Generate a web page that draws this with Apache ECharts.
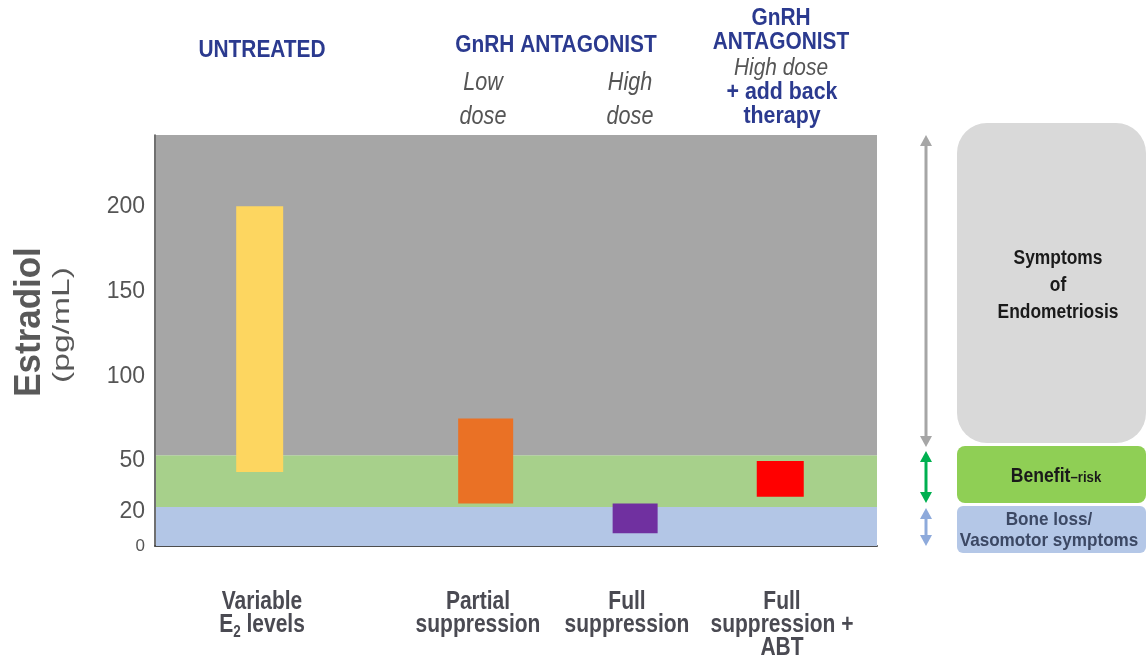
<!DOCTYPE html>
<html>
<head>
<meta charset="utf-8">
<script src="https://cdn.jsdelivr.net/npm/echarts@6/dist/echarts.min.js"></script>
<style>
  html, body { margin: 0; padding: 0; background: #fff; }
  #chart { width: 1146px; height: 657px; }
</style>
</head>
<body>
<div id="chart"></div>
<script>
// estradiol zones (pg/mL)
var bandNames = ['Bone loss', 'Benefit-risk', 'Symptoms'];
var bandLow = [0, 23, 53.5];
var bandHigh = [23, 53.5, 242];

// treatment groups, x position on a 0-100 axis
var groups = ['Variable\nE{sub|2} levels', 'Partial\nsuppression', 'Full\nsuppression', 'Full\nsuppression +\nABT'];
var groupX = [14.5, 45.8, 66.5, 86.6];
var e2Low = [43.5, 25, 7.5, 29];
var e2High = [200, 75, 25, 50];

var yTicks = [0, 20, 50, 100, 150, 200];

var chartDom = document.getElementById('chart');
var myChart = echarts.init(chartDom);
var option;

var bandColors = ['#b3c6e6', '#a7d08b', '#a6a6a6'];
var barColors = ['#fdd660', '#ea7125', '#7030a0', '#ff0000'];
var barWidths = [47, 55, 45, 47];
var labelX = [262, 478, 627, 782];
var navy = '#2b3a8f';
var arial = 'Liberation Sans, Arial, sans-serif';

// text helper, sx squeezes the glyphs like the narrow font of the original
function txt(x, y, text, font, fill, sx, extra) {
    var style = { text: text, font: font + ' ' + arial, fill: fill, align: 'center', verticalAlign: 'middle' };
    for (var k in extra) style[k] = extra[k];
    return { type: 'text', x: x, y: y, scaleX: sx, style: style };
}

// double headed arrow made of a line and two heads
function arrow(x, y1, y2, color) {
    var h = 10, w = 6;
    return [
        { type: 'line', shape: { x1: x, y1: y1 + h, x2: x, y2: y2 - h }, style: { stroke: color, lineWidth: 3 } },
        { type: 'polygon', shape: { points: [[x, y1], [x - w, y1 + h + 1], [x + w, y1 + h + 1]] }, style: { fill: color } },
        { type: 'polygon', shape: { points: [[x, y2], [x - w, y2 - h - 1], [x + w, y2 - h - 1]] }, style: { fill: color } }
    ];
}

var graphics = [
    // y axis title
    { type: 'text', x: 30, y: 322, rotation: Math.PI / 2, scaleX: 0.97,
      style: { text: 'Estradiol', font: 'bold 36px ' + arial, fill: '#595959', align: 'center', verticalAlign: 'middle' } },
    { type: 'text', x: 62, y: 325, rotation: Math.PI / 2, scaleX: 1.4,
      style: { text: '(pg/mL)', font: '24px ' + arial, fill: '#595959', align: 'center', verticalAlign: 'middle' } },
    // headers
    txt(262, 50, 'UNTREATED', 'bold 24px', navy, 0.87),
    txt(556, 45, 'GnRH ANTAGONIST', 'bold 24px', navy, 0.87),
    txt(483, 100, 'Low\ndose', 'italic 26px', '#555555', 0.83, { lineHeight: 34 }),
    txt(630, 100, 'High\ndose', 'italic 26px', '#555555', 0.83, { lineHeight: 34 }),
    txt(781, 30, 'GnRH\nANTAGONIST', 'bold 24px', navy, 0.87, { lineHeight: 24 }),
    txt(781, 68, 'High dose', 'italic 24px', '#555555', 0.87),
    txt(782, 104, '+ add back\ntherapy', 'bold 24px', navy, 0.89, { lineHeight: 24 }),
    // right legend boxes
    { type: 'rect', shape: { x: 957, y: 123, width: 189, height: 320, r: 30 }, style: { fill: '#d9d9d9' } },
    txt(1058, 285, 'Symptoms\nof\nEndometriosis', 'bold 20px', '#1a1a1a', 0.87, { lineHeight: 27 }),
    { type: 'rect', shape: { x: 957, y: 446, width: 189, height: 57, r: 8 }, style: { fill: '#8fcf55' } },
    txt(1056, 476, '{a|Benefit}{b|–risk}', '', '#1a1a1a', 0.88, {
        rich: { a: { font: 'bold 20px ' + arial, fill: '#1a1a1a' }, b: { font: 'bold 15px ' + arial, fill: '#1a1a1a', padding: [3, 0, 0, 0] } }
    }),
    { type: 'rect', shape: { x: 957, y: 506, width: 189, height: 47, r: 6 }, style: { fill: '#b4c7e7' } },
    txt(1049, 530, 'Bone loss/\nVasomotor symptoms', 'bold 19px', '#3c4864', 0.9, { lineHeight: 21 })
].concat(arrow(926, 135, 447, '#a6a6a6'))
 .concat(arrow(926, 451, 503, '#00b050'))
 .concat(arrow(926, 508, 546, '#8eaadb'));

// group labels under the plot
groups.forEach(function (g, i) {
    graphics.push({
        type: 'text', x: labelX[i], y: 591, scaleX: 0.84,
        style: {
            text: g, font: 'bold 25px ' + arial, lineHeight: 23, fill: '#4a4a52',
            align: 'center', verticalAlign: 'top',
            rich: { sub: { font: 'bold 16px ' + arial, fill: '#4a4a52', padding: [14, 0, 0, 0] } }
        }
    });
});

option = {
    animation: false,
    grid: { left: 155, right: 269, top: 135, bottom: 111, outerBoundsMode: 'none', containLabel: false },
    xAxis: {
        type: 'value',
        min: 0,
        max: 100,
        splitLine: { show: false },
        axisTick: { show: false },
        axisLabel: { show: false },
        axisLine: { show: true, lineStyle: { color: '#4d4d4d', width: 2 } }
    },
    yAxis: {
        type: 'value',
        min: 0,
        max: 242,
        splitLine: { show: false },
        axisTick: { show: false },
        axisLine: { show: true, lineStyle: { color: '#404040', width: 1.5 } },
        axisLabel: {
            customValues: yTicks,
            margin: 10,
            fontFamily: arial,
            fontSize: 23,
            color: '#555555',
            formatter: function (v) { return v === 0 ? '{z|0}' : String(v); },
            rich: { z: { fontSize: 17, color: '#555555' } }
        }
    },
    graphic: graphics,
    series: [
        {
            name: 'zones',
            type: 'custom',
            z: 1,
            data: bandLow.map(function (lo, i) { return [lo, bandHigh[i], i]; }),
            encode: { y: [0, 1] },
            renderItem: function (params, api) {
                var p0 = api.coord([0, api.value(1)]);
                var p1 = api.coord([100, api.value(0)]);
                return {
                    type: 'rect',
                    shape: { x: p0[0] + 1, y: p0[1], width: p1[0] - p0[0] - 1, height: p1[1] - p0[1] },
                    style: { fill: bandColors[api.value(2)] }
                };
            }
        },
        {
            name: 'estradiol',
            type: 'custom',
            z: 2,
            data: groupX.map(function (x, i) { return [x, e2Low[i], e2High[i], i]; }),
            encode: { x: 0, y: [1, 2] },
            renderItem: function (params, api) {
                var idx = api.value(3);
                var top = api.coord([api.value(0), api.value(2)]);
                var bot = api.coord([api.value(0), api.value(1)]);
                var w = barWidths[idx];
                return {
                    type: 'rect',
                    shape: { x: top[0] - w / 2, y: top[1], width: w, height: bot[1] - top[1] },
                    style: { fill: barColors[idx] }
                };
            }
        }
    ]
};

option && myChart.setOption(option);
</script>
</body>
</html>
